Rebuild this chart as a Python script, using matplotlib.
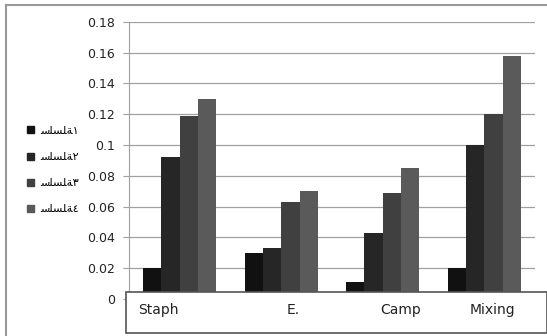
import matplotlib.pyplot as plt
import numpy as np
from matplotlib.patches import Rectangle
from matplotlib.lines import Line2D

# category names and the four series
categories = ['Staph', 'E.', 'Camp', 'Mixing']
# "سلسلة" written with presentation forms so the glyphs join
series_names = ['\uFEB3\uFEE0\uFEB4\uFEE0\uFE94' + d for d in ['١', '٢', '٣', '٤']]
s1 = [0.02, 0.03, 0.011, 0.02]
s2 = [0.092, 0.033, 0.043, 0.1]
s3 = [0.119, 0.063, 0.069, 0.12]
s4 = [0.13, 0.07, 0.085, 0.158]
yticks = [0, 0.02, 0.04, 0.06, 0.08, 0.1, 0.12, 0.14, 0.16, 0.18]
ytick_labels = ['0', '0.02', '0.04', '0.06', '0.08', '0.1', '0.12', '0.14', '0.16', '0.18']

colors = ['#111111', '#262626', '#404040', '#5a5a5a']
W, H = 547, 336

fig = plt.figure(figsize=(W / 100, H / 100), dpi=100)
ax = fig.add_axes([129 / W, 1 - 298.75 / H, (535 - 129) / W, (298.75 - 22) / H])

x = np.arange(len(categories))
bw = 0.18
for i, vals in enumerate([s1, s2, s3, s4]):
    ax.bar(x + (i - 1.5) * bw, vals, bw, color=colors[i], label=series_names[i], zorder=3)

ax.set_xlim(-0.5, 3.5)
ax.set_ylim(0, 0.18)
ax.set_yticks(yticks)
ax.set_yticklabels(ytick_labels, fontsize=9, color='#222222')
ax.set_xticks([])
ax.yaxis.grid(True, color='#a0a0a0', linewidth=0.9, zorder=0)
for side in ['top', 'right', 'bottom']:
    ax.spines[side].set_visible(False)
ax.spines['left'].set_color('#a0a0a0')
ax.tick_params(axis='y', length=4, color='#a0a0a0', pad=6)

# outer chart border (top and left only show)
fig.add_artist(Line2D([6 / W, 6 / W], [0, 1 - 5 / H], color='#999999', lw=1.5))
fig.add_artist(Line2D([6 / W, 1], [1 - 5 / H, 1 - 5 / H], color='#999999', lw=1.5))

# box holding the category labels, drawn over the bar bottoms
box = Rectangle((125.5 / W, 1 - 333 / H), (W - 125.5) / W, (333 - 292) / H,
                transform=fig.transFigure, facecolor='white', edgecolor='#555555',
                lw=1.2, zorder=10)
fig.add_artist(box)
label_x = [138, 287, 380, 470]
for lx, name in zip(label_x, categories):
    t = fig.text(lx / W, 1 - 310 / H, name, fontsize=10, ha='left', va='center', color='#222222')
    t.set_zorder(11)

handles = [Rectangle((0, 0), 1, 1, color=c) for c in colors]
fig.legend(handles, series_names, loc='center left', bbox_to_anchor=(17 / W, 1 - 170 / H),
           frameon=False, handlelength=0.6, handleheight=0.6, handletextpad=0.6,
           labelspacing=1.45, prop={'family': ['DejaVu Sans'], 'size': 8})

fig.savefig('out.png', dpi=100)
